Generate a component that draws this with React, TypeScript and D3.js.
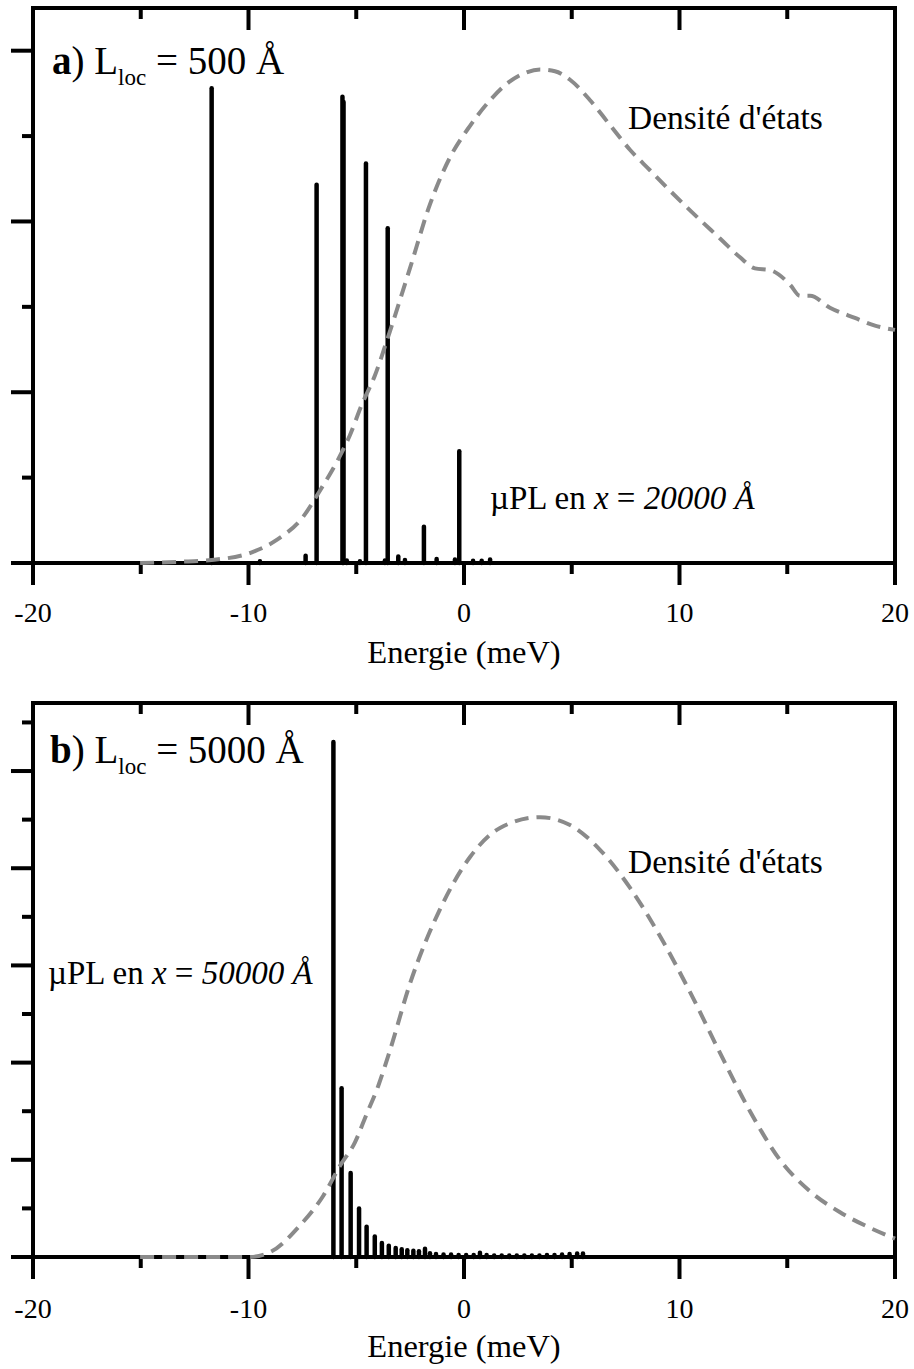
import React from 'react';
import * as d3 from 'd3';

// ---------- data ----------
const xMajorTicks = [-20, -10, 0, 10, 20];
const xMinorTicks = [-15, -5, 5, 15];
const xTickLabels = ['-20', '-10', '0', '10', '20'];

// Panel a : µPL lines (energy meV, intensity a.u.)
const peaksEnergyA = [-11.71, -9.47, -7.35, -6.84, -5.64, -5.59, -5.44, -4.83, -4.55, -3.67, -3.54, -3.05, -2.74, -1.86, -1.27, -0.42, -0.22, 0.42, 0.82, 1.21];
const peaksIntensityA = [5.56, 0.02, 0.085, 4.43, 5.46, 5.40, 0.03, 0.02, 4.68, 0.03, 3.92, 0.075, 0.035, 0.425, 0.047, 0.04, 1.31, 0.025, 0.025, 0.04];

// Panel a : density of states (dashed)
const dosEnergyA = [-15.03, -13.18, -11.71, -9.79, -8.69, -7.47, -6.68, -5.91, -5.29, -4.75, -4.13, -3.43, -2.51, -1.58, -0.65, 0.28, 1.21, 2.13, 2.83, 3.53, 4.22, 4.92, 5.85, 6.77, 7.70, 8.63, 9.56, 10.49, 11.88, 12.81, 13.50, 14.20, 15.13, 15.59, 16.06, 16.98, 18.14, 19.07, 20.0];
const dosValueA = [0, 0.015, 0.035, 0.13, 0.27, 0.54, 0.85, 1.18, 1.50, 1.85, 2.2, 2.72, 3.45, 4.2, 4.75, 5.12, 5.42, 5.64, 5.74, 5.78, 5.76, 5.66, 5.42, 5.13, 4.84, 4.60, 4.36, 4.13, 3.80, 3.58, 3.45, 3.43, 3.26, 3.13, 3.13, 2.99, 2.87, 2.78, 2.73];

// Panel b : µPL lines
const peaksEnergyB = [-6.06, -5.68, -5.26, -4.87, -4.52, -4.14, -3.81, -3.49, -3.17, -2.89, -2.63, -2.35, -2.09, -1.81, -1.58, -1.30, -0.95, -0.60, -0.25, 0.10, 0.45, 0.74, 1.05, 1.40, 1.75, 2.10, 2.45, 2.80, 3.15, 3.50, 3.85, 4.20, 4.55, 4.90, 5.25, 5.52];
const peaksIntensityB = [10.6, 3.47, 1.73, 1.00, 0.62, 0.42, 0.29, 0.23, 0.185, 0.16, 0.14, 0.13, 0.12, 0.17, 0.075, 0.06, 0.05, 0.05, 0.04, 0.04, 0.04, 0.09, 0.04, 0.03, 0.03, 0.03, 0.03, 0.03, 0.03, 0.03, 0.04, 0.04, 0.05, 0.06, 0.07, 0.07];

// Panel b : density of states (dashed)
const dosEnergyB = [-15.03, -9.98, -9.0, -7.61, -6.53, -5.75, -5.06, -4.52, -3.98, -3.43, -2.51, -1.11, 0.28, 1.67, 3.53, 4.92, 6.31, 7.70, 9.10, 10.49, 11.88, 13.27, 14.66, 16.06, 17.45, 18.84, 20.0];
const dosValueB = [0, 0, 0.1, 0.65, 1.26, 1.88, 2.36, 2.94, 3.52, 4.26, 5.62, 7.16, 8.23, 8.83, 9.05, 8.89, 8.38, 7.6, 6.6, 5.45, 4.2, 3.0, 2.0, 1.35, 0.92, 0.6, 0.38];

// ---------- layout ----------
const W = 914;
const H = 1369;
const LEFT = 33;
const RIGHT = 895;
const FONT = '"Liberation Serif", "Times New Roman", Times, serif';
const MAJOR = 22;
const MINOR = 11;
const SW = 4;

type PanelProps = {
  top: number;
  bottom: number;
  yMax: number;
  yTickCount: number;
  peaksE: number[];
  peaksI: number[];
  dosE: number[];
  dosV: number[];
  letter: string;
  lloc: string;
  labelBaseline: number;
  labelX: number;
  dosLabel: { x: number; y: number };
  plLabel: { x: number; y: number; value: string };
  tickLabelY: number;
  titleY: number;
};

function Panel(p: PanelProps) {
  const x = d3.scaleLinear().domain([-20, 20]).range([LEFT, RIGHT]);
  const y = d3.scaleLinear().domain([0, p.yMax]).range([p.bottom, p.top]);
  const yTicks = d3.range(0, p.yTickCount + 1);
  const line = d3
    .line<number>()
    .x((_, i) => x(p.dosE[i]))
    .y((v) => y(v))
    .curve(d3.curveMonotoneX);
  return (
    <g>
      {/* PL lines */}
      {p.peaksE.map((e, i) => (
        <line key={'pk' + i} x1={x(e)} x2={x(e)} y1={y(0)} y2={y(p.peaksI[i])} stroke="#000" strokeWidth={4.5} strokeLinecap="round" />
      ))}
      {/* frame */}
      <rect x={LEFT} y={p.top} width={RIGHT - LEFT} height={p.bottom - p.top} fill="none" stroke="#000" strokeWidth={SW} />
      {/* bottom ticks (outward) and top ticks (inward) */}
      {xMajorTicks.map((t) => (
        <g key={'xm' + t}>
          <line x1={x(t)} x2={x(t)} y1={p.bottom} y2={p.bottom + MAJOR} stroke="#000" strokeWidth={SW} />
          <line x1={x(t)} x2={x(t)} y1={p.top} y2={p.top + MAJOR} stroke="#000" strokeWidth={SW} />
        </g>
      ))}
      {xMinorTicks.map((t) => (
        <g key={'xn' + t}>
          <line x1={x(t)} x2={x(t)} y1={p.bottom} y2={p.bottom + MINOR} stroke="#000" strokeWidth={SW} />
          <line x1={x(t)} x2={x(t)} y1={p.top} y2={p.top + MINOR} stroke="#000" strokeWidth={SW} />
        </g>
      ))}
      {/* left ticks (outward) */}
      {yTicks.map((t) => (
        <line key={'yt' + t} x1={LEFT - (t % 2 === 0 ? MAJOR : MINOR)} x2={LEFT} y1={y(t)} y2={y(t)} stroke="#000" strokeWidth={SW} />
      ))}
      {/* DOS dashed, drawn over the axis */}
      <path d={line(p.dosV) || ''} fill="none" stroke="#8a8a8a" strokeWidth={4} strokeDasharray="14 8" />
      {/* tick labels */}
      {xMajorTicks.map((t, i) => (
        <text key={'xl' + t} x={x(t)} y={p.tickLabelY} textAnchor="middle" fontFamily={FONT} fontSize={28}>
          {xTickLabels[i]}
        </text>
      ))}
      <text x={x(0)} y={p.titleY} textAnchor="middle" fontFamily={FONT} fontSize={32.5}>
        Energie (meV)
      </text>
      {/* panel label */}
      <text x={p.labelX} y={p.labelBaseline} fontFamily={FONT} fontSize={39}>
        <tspan fontWeight="bold">{p.letter}</tspan>
        <tspan>) L</tspan>
        <tspan fontSize={23} dy={11}>loc</tspan>
        <tspan dy={-11}>{' = ' + p.lloc + ' Å'}</tspan>
      </text>
      <text x={p.dosLabel.x} y={p.dosLabel.y} fontFamily={FONT} fontSize={33.5}>
        Densité d'états
      </text>
      <text x={p.plLabel.x} y={p.plLabel.y} fontFamily={FONT} fontSize={33}>
        <tspan>µPL en </tspan>
        <tspan fontStyle="italic">x</tspan>
        <tspan> = </tspan>
        <tspan fontStyle="italic">{p.plLabel.value + ' Å'}</tspan>
      </text>
    </g>
  );
}

export default function App() {
  return (
    <svg width={W} height={H} style={{ position: 'absolute', left: 0, top: 0, background: '#fff' }}>
      <rect x={0} y={0} width={W} height={H} fill="#fff" />
      <Panel
        top={8}
        bottom={563}
        yMax={6.5}
        yTickCount={6}
        peaksE={peaksEnergyA}
        peaksI={peaksIntensityA}
        dosE={dosEnergyA}
        dosV={dosValueA}
        letter="a"
        lloc="500"
        labelX={52}
        labelBaseline={74}
        dosLabel={{ x: 628, y: 129 }}
        plLabel={{ x: 490, y: 509, value: '20000' }}
        tickLabelY={622}
        titleY={663}
      />
      <Panel
        top={703}
        bottom={1257}
        yMax={11.4}
        yTickCount={11}
        peaksE={peaksEnergyB}
        peaksI={peaksIntensityB}
        dosE={dosEnergyB}
        dosV={dosValueB}
        letter="b"
        lloc="5000"
        labelX={50}
        labelBaseline={763}
        dosLabel={{ x: 628, y: 873 }}
        plLabel={{ x: 48, y: 984, value: '50000' }}
        tickLabelY={1318}
        titleY={1357}
      />
    </svg>
  );
}
